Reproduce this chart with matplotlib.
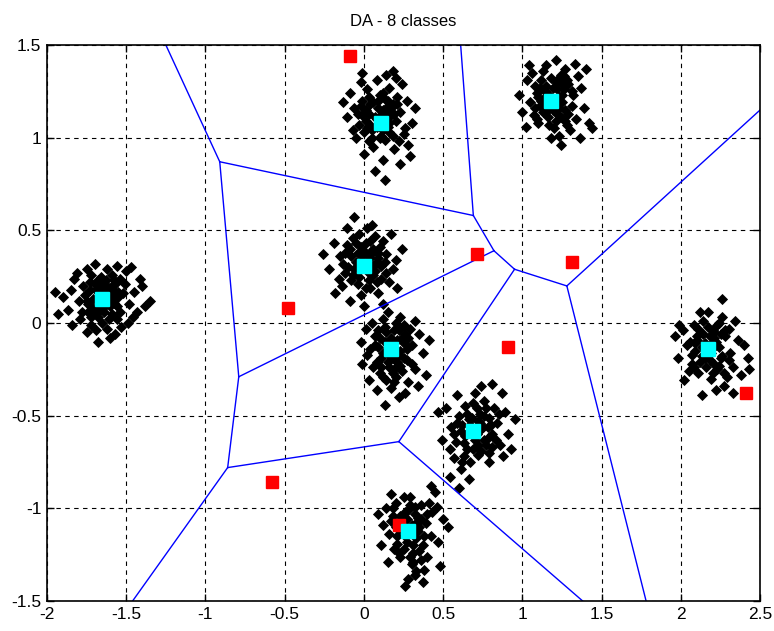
import numpy as np
import matplotlib
matplotlib.use('Agg')
from matplotlib import pyplot as plt

plt.rcParams['font.family'] = ['Liberation Sans', 'DejaVu Sans']

# cluster prototypes (cyan) and initial codebook (red)
proto_x = [-1.65, 0.11, 1.18, 0.00, 0.17, 0.69, 0.28, 2.17]
proto_y = [0.13, 1.08, 1.20, 0.31, -0.14, -0.58, -1.12, -0.14]
init_x = [-0.09, 0.71, 1.31, -0.48, 0.91, 2.41, -0.58, 0.22]
init_y = [1.44, 0.37, 0.33, 0.08, -0.13, -0.38, -0.86, -1.09]

# sample offsets around each cluster centre
blob_centres = [(-1.65, 0.12), (0.08, 1.10), (1.18, 1.20), (0.00, 0.31),
                (0.17, -0.14), (0.69, -0.58), (0.28, -1.12), (2.17, -0.14)]

blob1 = [(0.00, 0.02), (0.05, -0.03), (-0.04, 0.06), (0.08, 0.05), (-0.09, -0.02), (0.02, 0.11), (-0.12, 0.08),
         (0.11, -0.06), (-0.03, -0.09), (0.06, 0.14), (-0.15, 0.00), (0.14, 0.09), (-0.07, -0.13), (0.03, -0.15),
         (0.17, -0.02), (-0.18, 0.12), (0.09, 0.19), (-0.10, 0.17), (0.20, 0.05), (-0.22, -0.05), (0.12, -0.14),
         (-0.05, 0.20), (0.01, -0.06), (-0.02, 0.04), (0.04, 0.07), (-0.06, -0.04), (0.07, -0.01), (-0.11, 0.03),
         (0.10, 0.02), (-0.01, 0.13), (0.15, 0.16), (-0.14, -0.10), (0.19, -0.09), (-0.20, 0.06), (0.24, 0.12),
         (-0.25, 0.02), (0.05, -0.20), (-0.08, 0.10), (0.13, 0.04), (-0.16, 0.15), (0.22, -0.06), (-0.03, -0.22),
         (0.18, 0.18), (0.27, -0.03), (-0.28, -0.07), (0.09, -0.10), (-0.13, -0.06), (0.06, 0.03), (-0.07, 0.14),
         (0.16, -0.12), (0.30, 0.00), (-0.30, 0.05), (0.03, 0.17), (-0.04, -0.16), (0.11, 0.12), (0.00, -0.12),
         (-0.19, -0.13), (0.25, 0.08), (0.08, -0.18), (-0.10, -0.17),
         (0.02, 0.00), (-0.02, 0.08), (0.06, -0.07), (-0.06, 0.01), (0.03, 0.04), (-0.04, -0.07), (0.08, 0.09),
         (-0.08, 0.06), (0.01, -0.03), (0.05, 0.01), (-0.03, 0.11), (0.09, -0.03), (-0.09, -0.06), (0.00, 0.07),
         (0.04, -0.10), (-0.05, 0.09), (0.07, 0.11), (-0.07, -0.09), (0.10, 0.05), (-0.01, -0.01), (0.03, -0.02),
         (-0.10, 0.00), (0.06, 0.08), (-0.02, -0.04), (0.01, 0.09)]
blob2 = [(0.00, 0.00), (0.04, 0.05), (-0.05, 0.03), (0.07, -0.04), (-0.03, -0.06), (0.10, 0.08), (-0.09, 0.10),
         (0.02, 0.13), (0.12, -0.01), (-0.11, -0.03), (0.05, -0.11), (-0.06, 0.16), (0.15, 0.04), (-0.14, 0.06),
         (0.08, 0.17), (0.17, -0.08), (-0.02, -0.15), (0.13, 0.12), (-0.13, -0.10), (0.00, 0.21), (0.19, 0.10),
         (-0.17, 0.14), (0.06, 0.24), (0.11, -0.16), (-0.08, -0.19), (0.22, -0.02), (-0.19, 0.01), (0.03, -0.09),
         (-0.04, 0.08), (0.09, 0.02), (0.01, 0.06), (-0.07, -0.01), (0.14, -0.12), (-0.10, 0.20), (0.16, 0.19),
         (0.04, -0.22), (-0.01, -0.28), (0.05, -0.33), (0.20, -0.14), (-0.15, -0.06), (0.24, 0.06), (-0.21, 0.09),
         (0.10, 0.26), (0.12, 0.22), (0.07, 0.10), (-0.12, 0.03), (0.18, -0.05), (0.02, -0.04), (-0.05, -0.12),
         (0.08, -0.07), (0.21, -0.20), (0.15, -0.24), (-0.09, 0.25),
         (0.03, 0.02), (-0.02, 0.09), (0.06, -0.01), (-0.07, 0.05), (0.04, -0.06), (-0.04, -0.03), (0.09, 0.06),
         (-0.08, -0.07), (0.00, -0.04), (0.05, 0.11), (-0.01, 0.01), (0.11, 0.03), (-0.10, 0.07), (0.02, -0.10),
         (0.07, 0.07), (-0.05, 0.12), (0.10, -0.09), (-0.03, -0.10), (0.01, 0.10), (0.08, -0.02), (-0.06, -0.05),
         (0.13, 0.08), (0.04, 0.14), (-0.09, 0.02), (0.06, 0.04)]
blob3 = [(0.00, 0.01), (0.05, -0.04), (-0.04, 0.05), (0.08, 0.06), (-0.07, -0.03), (0.03, 0.10), (-0.10, 0.08),
         (0.11, -0.07), (-0.02, -0.09), (0.06, 0.14), (-0.13, -0.01), (0.14, 0.03), (-0.08, -0.12), (0.02, -0.15),
         (0.16, -0.10), (-0.15, 0.11), (0.09, 0.17), (-0.05, 0.16), (0.19, 0.07), (-0.18, -0.06), (0.12, -0.16),
         (-0.03, 0.19), (0.01, -0.05), (-0.01, 0.03), (0.04, 0.06), (-0.06, 0.00), (0.07, -0.01), (-0.11, -0.08),
         (0.10, 0.11), (0.00, -0.20), (0.17, 0.13), (-0.12, 0.15), (0.21, -0.04), (-0.20, 0.03), (0.24, -0.12),
         (-0.16, -0.14), (0.06, -0.24), (0.22, 0.17), (0.13, 0.05), (-0.09, 0.04), (0.03, 0.22), (-0.01, -0.13),
         (0.18, -0.20), (0.26, -0.15), (0.09, -0.11), (-0.14, 0.19), (0.15, 0.20), (0.05, -0.19),
         (0.02, -0.02), (-0.03, 0.08), (0.07, 0.03), (-0.05, -0.06), (0.04, 0.11), (-0.08, 0.02), (0.09, -0.05),
         (0.01, 0.07), (-0.02, -0.05), (0.06, -0.09), (-0.06, 0.11), (0.11, 0.09), (-0.10, -0.04), (0.03, -0.11),
         (0.08, 0.13), (-0.04, 0.02), (0.13, -0.03), (0.00, 0.12), (-0.07, 0.07), (0.05, 0.02), (0.10, -0.13),
         (-0.01, -0.01), (0.04, -0.07), (-0.09, -0.10), (0.07, 0.09)]
blob4 = [(0.00, 0.00), (0.04, 0.04), (-0.05, 0.02), (0.06, -0.05), (-0.03, -0.06), (0.09, 0.07), (-0.09, 0.09),
         (0.01, 0.12), (0.11, 0.00), (-0.12, -0.04), (0.04, -0.12), (-0.07, 0.15), (0.14, 0.06), (-0.15, 0.05),
         (0.07, 0.16), (0.16, -0.09), (-0.02, -0.16), (0.12, 0.13), (-0.14, -0.11), (0.02, 0.20), (0.20, 0.03),
         (-0.19, 0.12), (0.05, 0.22), (0.09, -0.15), (-0.09, -0.19), (0.24, 0.09), (-0.22, -0.02), (0.03, -0.08),
         (-0.04, 0.07), (0.08, 0.02), (-0.26, 0.06), (-0.18, -0.15), (0.12, -0.21), (0.00, -0.22), (-0.06, 0.26),
         (-0.11, 0.20), (0.17, 0.17), (0.14, -0.04), (-0.08, -0.08), (0.06, 0.09), (0.21, -0.12), (-0.13, 0.01),
         (-0.03, 0.17), (0.18, -0.02), (-0.16, -0.07),
         (0.02, 0.02), (-0.02, 0.10), (0.06, 0.00), (-0.06, -0.02), (0.03, -0.04), (-0.08, 0.05), (0.08, -0.09),
         (-0.01, 0.05), (0.05, 0.07), (-0.04, -0.10), (0.10, 0.10), (-0.10, -0.01), (0.01, -0.12), (0.07, -0.03),
         (-0.05, 0.12), (0.11, -0.07), (-0.11, 0.11), (0.00, 0.08), (0.04, 0.13), (-0.07, -0.05), (0.09, 0.04),
         (-0.02, -0.02), (0.03, 0.06), (-0.12, 0.07), (0.13, 0.02)]
blob5 = [(0.00, 0.00), (0.05, -0.03), (-0.04, 0.04), (0.07, 0.06), (-0.06, -0.05), (0.02, 0.10), (-0.10, 0.07),
         (0.10, -0.06), (-0.01, -0.10), (0.08, 0.13), (-0.13, 0.00), (0.13, 0.02), (-0.07, -0.13), (0.03, -0.15),
         (0.15, -0.11), (-0.16, 0.11), (0.06, 0.17), (-0.05, 0.16), (0.18, 0.08), (-0.18, -0.08), (0.11, -0.18),
         (-0.02, 0.20), (0.01, -0.05), (-0.02, 0.02), (0.04, 0.05), (-0.08, 0.01), (0.06, -0.09), (-0.11, -0.10),
         (0.12, 0.11), (0.00, -0.21), (-0.09, -0.22), (0.20, -0.02), (-0.19, 0.04), (0.22, -0.14), (-0.14, -0.17),
         (0.05, -0.26), (-0.04, -0.30), (0.09, -0.24), (0.15, 0.15), (-0.12, 0.14), (0.24, 0.05), (0.17, -0.20),
         (-0.03, -0.17), (0.08, 0.03), (-0.15, -0.03), (0.03, 0.14),
         (0.02, 0.03), (-0.03, 0.09), (0.06, -0.01), (-0.05, -0.02), (0.04, -0.07), (-0.07, 0.06), (0.09, 0.08),
         (-0.01, -0.03), (0.05, 0.10), (-0.09, -0.07), (0.10, 0.00), (-0.04, 0.12), (0.01, -0.13), (0.07, -0.12),
         (-0.06, -0.10), (0.11, 0.06), (-0.10, 0.02), (0.00, 0.06), (0.03, -0.10), (-0.02, -0.07), (0.08, -0.05),
         (-0.08, 0.10), (0.13, -0.08), (0.02, -0.18), (-0.05, -0.15)]
blob6 = [(0.00, 0.00), (0.04, 0.04), (-0.05, -0.03), (0.07, -0.05), (-0.03, 0.06), (0.10, 0.07), (-0.09, 0.08),
         (0.02, 0.12), (0.12, -0.02), (-0.11, -0.06), (0.05, -0.11), (-0.06, -0.14), (0.15, 0.04), (-0.14, 0.02),
         (0.07, 0.16), (0.17, -0.08), (-0.02, -0.17), (0.13, 0.12), (-0.12, -0.15), (0.01, 0.20), (0.20, 0.10),
         (-0.17, 0.12), (0.05, 0.24), (0.10, -0.17), (-0.08, -0.21), (0.22, -0.02), (-0.20, -0.05), (0.03, -0.08),
         (-0.04, 0.09), (0.09, 0.02), (0.18, 0.20), (-0.10, 0.19), (-0.03, -0.26), (-0.15, -0.25), (-0.09, -0.31),
         (0.19, -0.14), (0.26, 0.06), (-0.22, 0.10), (0.12, 0.25), (0.08, -0.08), (-0.07, 0.03), (0.14, -0.05),
         (0.00, 0.15), (-0.15, -0.10), (0.24, -0.10),
         (0.02, -0.02), (-0.02, 0.03), (0.06, 0.02), (-0.06, -0.07), (0.04, 0.09), (-0.08, 0.00), (0.09, -0.04),
         (0.01, -0.05), (-0.04, -0.10), (0.07, 0.08), (-0.01, 0.07), (0.11, 0.03), (-0.10, 0.04), (0.03, -0.13),
         (0.08, 0.12), (-0.05, 0.13), (0.12, -0.09), (-0.12, -0.02), (0.05, 0.01), (0.00, -0.10), (-0.03, -0.01),
         (0.10, -0.12), (0.16, 0.09), (-0.07, -0.17), (0.03, 0.05)]
blob7 = [(0.00, 0.00), (-0.04, 0.05), (0.05, -0.04), (-0.07, -0.03), (0.06, 0.07), (-0.02, 0.10), (0.09, -0.08),
         (-0.10, 0.08), (0.03, -0.12), (0.11, 0.04), (-0.12, -0.02), (0.01, 0.14), (-0.05, -0.14), (0.14, -0.03),
         (-0.14, 0.12), (0.08, 0.14), (0.02, -0.18), (-0.09, -0.10), (0.15, 0.10), (-0.16, 0.03), (0.05, -0.22),
         (0.00, -0.26), (-0.03, 0.18), (0.12, -0.14), (0.18, 0.13), (-0.19, 0.09), (0.19, -0.06), (-0.08, 0.15),
         (0.07, 0.02), (-0.01, -0.06), (0.04, 0.09), (-0.06, 0.01), (0.17, 0.21), (0.22, 0.06), (0.20, -0.19),
         (-0.13, -0.17), (0.09, -0.28), (-0.02, -0.30), (0.04, -0.24), (-0.11, 0.20), (0.14, 0.24), (-0.17, -0.08),
         (0.10, -0.21), (0.25, 0.02),
         (0.02, 0.03), (-0.02, -0.03), (0.06, 0.00), (-0.05, 0.08), (0.03, -0.08), (-0.08, 0.02), (0.08, 0.06),
         (0.00, 0.11), (-0.03, -0.10), (0.04, 0.13), (-0.07, -0.07), (0.10, -0.03), (0.01, -0.14), (-0.10, 0.12),
         (0.07, -0.11), (-0.01, 0.06), (0.12, 0.09), (0.05, 0.04), (-0.04, 0.02), (0.03, -0.17), (0.08, -0.16),
         (-0.06, -0.12), (0.01, 0.18), (0.13, 0.15), (-0.11, 0.05)]
blob8 = [(0.00, 0.00), (0.05, 0.04), (-0.04, -0.04), (0.08, -0.05), (-0.07, 0.05), (0.03, 0.10), (-0.10, -0.08),
         (0.11, 0.07), (-0.01, -0.10), (0.06, 0.13), (-0.13, 0.02), (0.14, -0.02), (-0.06, -0.13), (0.02, -0.16),
         (0.16, -0.10), (-0.16, 0.10), (0.09, 0.17), (-0.03, 0.15), (0.19, 0.05), (-0.19, -0.05), (0.12, -0.15),
         (-0.05, 0.20), (0.01, -0.06), (-0.02, 0.03), (0.04, 0.06), (-0.08, -0.01), (0.07, -0.09), (-0.12, -0.12),
         (0.13, 0.11), (-0.09, 0.13), (0.21, -0.14), (0.23, 0.02), (-0.21, 0.07), (0.26, -0.11), (-0.15, -0.17),
         (0.05, -0.22), (-0.04, -0.25), (0.10, -0.20), (0.17, 0.15), (0.09, 0.27), (-0.18, 0.13), (0.25, -0.05),
         (0.03, 0.04), (-0.11, 0.04), (0.16, -0.24), (0.00, 0.20),
         (0.02, -0.02), (-0.03, 0.08), (0.07, 0.01), (-0.05, -0.07), (0.04, 0.09), (-0.08, 0.03), (0.09, -0.04),
         (0.01, 0.07), (-0.02, -0.05), (0.06, -0.11), (-0.06, 0.11), (0.11, 0.10), (-0.10, -0.03), (0.03, -0.13),
         (0.08, 0.08), (-0.04, 0.01), (0.13, -0.06), (0.00, 0.12), (-0.07, 0.07), (0.05, 0.02), (0.10, -0.13),
         (-0.01, -0.01), (0.04, -0.08), (-0.09, -0.10), (0.07, 0.14)]
blobs = [blob1, blob2, blob3, blob4, blob5, blob6, blob7, blob8]

# boundary vertices and the edges between them
verts = {
    'A': (-1.25, 1.5), 'B': (-0.91, 0.87), 'C': (0.69, 0.58), 'D': (0.61, 1.5),
    'E': (0.82, 0.39), 'F': (0.95, 0.29), 'G': (1.28, 0.20), 'H': (2.5, 1.15),
    'I': (1.78, -1.5), 'J': (0.22, -0.64), 'K': (1.38, -1.5), 'L': (-0.86, -0.78),
    'M': (-0.79, -0.29), 'N': (-1.46, -1.5),
}
edges = [('A', 'B'), ('B', 'C'), ('C', 'D'), ('C', 'E'), ('E', 'F'), ('F', 'G'),
         ('G', 'H'), ('G', 'I'), ('F', 'J'), ('J', 'K'), ('J', 'L'), ('B', 'M'),
         ('M', 'E'), ('M', 'L'), ('L', 'N')]

fig = plt.figure(figsize=(7.74, 6.31), dpi=100)
ax = fig.add_axes([0.0607, 0.0475, 0.9215, 0.8812])

for (cx, cy), pts in zip(blob_centres, blobs):
    pts = np.array(pts)
    ax.plot(cx + pts[:, 0], cy + pts[:, 1], 'D', color='k', markersize=4.7,
            markeredgewidth=0.6, linestyle='none')

for a, b in edges:
    ax.plot([verts[a][0], verts[b][0]], [verts[a][1], verts[b][1]], color='#0000ff', linewidth=1.0)

ax.plot(init_x, init_y, 's', color='#ff0000', markersize=8, linestyle='none')
ax.plot(proto_x, proto_y, 's', color='#00ffff', markersize=9.5, linestyle='none')

ax.set_xlim(-2, 2.5)
ax.set_ylim(-1.5, 1.5)
xt = np.arange(-2, 2.51, 0.5)
yt = np.arange(-1.5, 1.51, 0.5)
ax.set_xticks(xt)
ax.set_yticks(yt)
ax.set_xticklabels(['%g' % v for v in xt])
ax.set_yticklabels(['%g' % v for v in yt])
ax.tick_params(direction='in', length=5, width=1, labelsize=12.5, top=True, right=True, pad=4)
ax.grid(True, color='k', linestyle=(0, (4, 4)), linewidth=0.8)
for s in ax.spines.values():
    s.set_linewidth(1.2)
ax.set_title('DA - 8 classes', fontsize=12, pad=14)

fig.savefig('out.png', dpi=100)
